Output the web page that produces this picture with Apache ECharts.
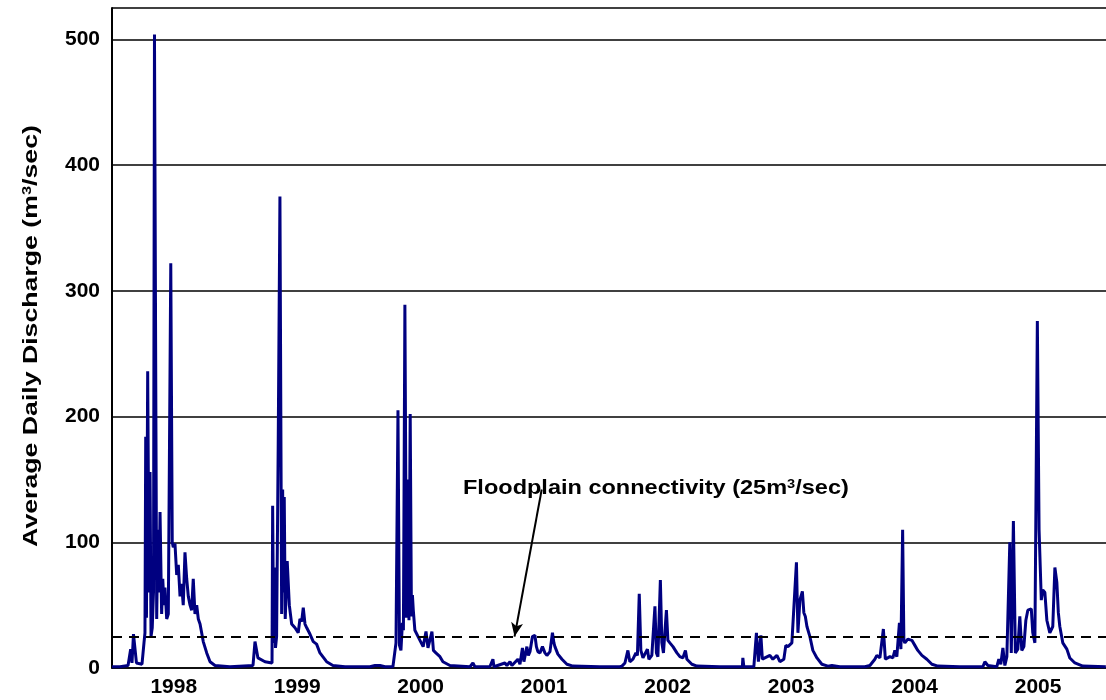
<!DOCTYPE html>
<html>
<head>
<meta charset="utf-8">
<script src="https://cdn.jsdelivr.net/npm/echarts@6/dist/echarts.min.js"></script>
<style>
    html, body { margin: 0; padding: 0; background: #fff; }
    #chart { width: 1106px; height: 700px; }
</style>
</head>
<body>
<div id="chart"></div>
<script>
// 每年的日均流量，[年内位置(0-1), 流量 m3/s]
const q1998 = [[0.000, 1], [0.065, 1], [0.130, 2], [0.151, 15], [0.162, 4], [0.174, 27], [0.190, 26], [0.198, 4], [0.243, 3], [0.259, 20], [0.267, 28], [0.273, 184], [0.279, 40], [0.289, 236], [0.300, 60], [0.308, 156], [0.316, 25], [0.326, 32], [0.336, 60], [0.344, 504], [0.356, 188], [0.362, 39], [0.372, 110], [0.381, 60], [0.389, 124], [0.402, 43], [0.411, 71], [0.421, 50], [0.429, 64], [0.443, 39], [0.456, 43], [0.476, 322], [0.488, 100], [0.496, 96], [0.510, 99], [0.524, 74], [0.537, 82], [0.551, 57], [0.564, 67], [0.577, 50], [0.591, 92], [0.605, 71], [0.618, 57], [0.632, 50], [0.645, 46], [0.658, 71], [0.672, 43], [0.686, 50], [0.699, 39], [0.713, 35], [0.739, 21], [0.767, 12], [0.794, 5], [0.834, 2], [0.955, 1]];
const q1999 = [[0.142, 2], [0.158, 21], [0.174, 21], [0.182, 8], [0.239, 5], [0.296, 4], [0.301, 129], [0.309, 20], [0.317, 80], [0.324, 16], [0.333, 25], [0.346, 177], [0.360, 375], [0.374, 43], [0.382, 142], [0.389, 60], [0.395, 136], [0.403, 39], [0.419, 85], [0.436, 50], [0.455, 35], [0.482, 32], [0.508, 28], [0.522, 39], [0.536, 37], [0.549, 48], [0.563, 35], [0.577, 32], [0.603, 27], [0.630, 21], [0.657, 19], [0.684, 12], [0.738, 5], [0.789, 2], [0.887, 1]];
const q2000 = [[0.089, 1], [0.130, 2], [0.170, 2], [0.211, 1], [0.275, 1], [0.300, 20], [0.316, 205], [0.328, 18], [0.340, 14], [0.352, 36], [0.360, 30], [0.372, 289], [0.385, 40], [0.397, 150], [0.405, 38], [0.415, 202], [0.425, 41], [0.433, 58], [0.440, 46], [0.453, 30], [0.467, 29], [0.494, 22], [0.520, 17], [0.543, 29], [0.559, 16], [0.591, 29], [0.603, 14], [0.623, 12], [0.656, 9], [0.680, 5], [0.737, 2], [0.899, 1], [0.923, 4], [0.939, 1]];
const q2001 = [[0.060, 1], [0.085, 7], [0.093, 1], [0.182, 4], [0.198, 2], [0.223, 5], [0.239, 2], [0.287, 7], [0.304, 3], [0.324, 16], [0.336, 5], [0.344, 6], [0.360, 17], [0.372, 10], [0.385, 13], [0.405, 25], [0.425, 26], [0.437, 17], [0.449, 13], [0.466, 12], [0.486, 17], [0.506, 12], [0.522, 10], [0.547, 13], [0.567, 28], [0.579, 20], [0.587, 17], [0.611, 11], [0.644, 7], [0.684, 3], [0.733, 1.5], [0.951, 1]];
const q2002 = [[0.113, 1], [0.130, 1.5], [0.154, 4], [0.178, 14], [0.194, 5], [0.219, 7], [0.243, 12], [0.255, 10], [0.270, 59], [0.283, 14], [0.300, 8], [0.316, 7], [0.336, 15], [0.348, 7], [0.372, 10], [0.385, 9], [0.397, 49], [0.409, 12], [0.421, 9], [0.441, 70], [0.453, 20], [0.466, 12], [0.490, 46], [0.502, 22], [0.518, 20], [0.543, 17], [0.575, 12], [0.599, 9], [0.623, 8], [0.644, 14], [0.656, 7], [0.696, 3], [0.737, 1.5], [0.923, 1]];
const q2003 = [[0.085, 1], [0.105, 1], [0.109, 8], [0.117, 1], [0.198, 1], [0.212, 2], [0.219, 28], [0.235, 5], [0.255, 26], [0.267, 7], [0.287, 8], [0.328, 10], [0.352, 7], [0.385, 10], [0.409, 5], [0.441, 7], [0.457, 18], [0.474, 17], [0.506, 20], [0.522, 21], [0.543, 84], [0.555, 28], [0.571, 54], [0.591, 61], [0.603, 44], [0.615, 41], [0.628, 33], [0.652, 25], [0.676, 14], [0.709, 8], [0.749, 3], [0.798, 1.5], [0.830, 2], [0.895, 1]];
const q2004 = [[0.097, 1], [0.138, 2], [0.178, 7], [0.194, 10], [0.219, 8], [0.247, 31], [0.263, 7], [0.300, 9], [0.324, 8], [0.340, 14], [0.356, 9], [0.377, 36], [0.389, 15], [0.403, 110], [0.413, 22], [0.421, 20], [0.445, 23], [0.478, 22], [0.502, 18], [0.526, 14], [0.559, 10], [0.599, 7], [0.640, 3], [0.688, 1.5], [0.866, 1]];
const q2005 = [[0.053, 1], [0.069, 5], [0.093, 2], [0.166, 1], [0.182, 7], [0.198, 3], [0.215, 16], [0.231, 2], [0.247, 9], [0.271, 100], [0.283, 12], [0.300, 117], [0.316, 12], [0.336, 15], [0.352, 41], [0.368, 14], [0.385, 17], [0.401, 38], [0.417, 46], [0.433, 46], [0.445, 47], [0.457, 28], [0.474, 20], [0.494, 276], [0.508, 110], [0.526, 54], [0.538, 62], [0.555, 60], [0.571, 38], [0.595, 28], [0.619, 33], [0.636, 80], [0.652, 68], [0.664, 44], [0.676, 33], [0.700, 20], [0.733, 15], [0.757, 8], [0.798, 4], [0.862, 1.5]];
const q2006 = [[0.049, 1]];

const yearly = [[1998, q1998], [1999, q1999], [2000, q2000], [2001, q2001], [2002, q2002], [2003, q2003], [2004, q2004], [2005, q2005], [2006, q2006]];

const threshold = 25;            // 漫滩连通流量
const yTicks = [0, 100, 200, 300, 400, 500];
const arrowFrom = [2001.48, 142];
const arrowTo = [2001.26, 25];

const FONT = '"Liberation Sans", Arial, sans-serif';

const discharge = yearly.flatMap(([y, q]) => q.map(([f, v]) => [y + f, v]));

const chart = echarts.init(document.getElementById('chart'));
chart.setOption({
    animation: false,
    grid: { left: 112, right: 0, top: 8, bottom: 32 },
    xAxis: {
        type: 'value',
        min: 1998,
        max: 2006.05,
        interval: 0.5,
        axisLine: { lineStyle: { color: '#000', width: 1.5 } },
        axisTick: { show: false },
        splitLine: { show: false },
        axisLabel: {
            showMinLabel: false,
            showMaxLabel: false,
            margin: 9,
            color: '#000',
            fontFamily: FONT,
            fontWeight: 'bold',
            fontSize: 21,
            formatter: (v) => (Math.abs((v % 1) - 0.5) < 1e-6 ? String(Math.floor(v)) : '')
        }
    },
    yAxis: {
        type: 'value',
        min: 0,
        max: 525,
        interval: 100,
        axisLine: { show: true, lineStyle: { color: '#000', width: 2 } },
        axisTick: { show: false },
        splitLine: { lineStyle: { color: '#000', width: 1.5 } },
        axisLabel: {
            showMaxLabel: false,
            margin: 12,
            color: '#000',
            fontFamily: FONT,
            fontWeight: 'bold',
            fontSize: 21,
            formatter: (v) => (yTicks.includes(v) ? String(v) : '')
        }
    },
    series: [
        {
            type: 'line',
            data: discharge,
            showSymbol: false,
            lineStyle: { color: '#000080', width: 3 },
            z: 3,
            markLine: {
                silent: true,
                symbol: ['none', 'none'],
                lineStyle: { color: '#000', type: [10, 7], width: 2 },
                label: { show: false },
                data: [{ yAxis: threshold }]
            }
        },
        {
            type: 'line',
            data: [],
            markLine: {
                silent: true,
                symbol: ['none', 'arrow'],
                symbolSize: [9, 14],
                lineStyle: { color: '#000', type: 'solid', width: 2 },
                label: { show: false },
                data: [[{ coord: arrowFrom }, { coord: arrowTo }]]
            }
        }
    ],
    graphic: [
        {
            type: 'text',
            x: 31,
            y: 336,
            rotation: Math.PI / 2,
            scaleX: 1.27,
            style: {
                text: 'Average Daily Discharge (m{sup|3}/sec)',
                fill: '#000',
                font: 'bold 21px ' + FONT,
                align: 'center',
                verticalAlign: 'middle',
                rich: { sup: { fontSize: 13, fontWeight: 'bold', fontFamily: FONT, verticalAlign: 'top', fill: '#000' } }
            }
        },
        {
            type: 'text',
            x: 463,
            y: 488,
            scaleX: 1.12,
            style: {
                text: 'Floodplain connectivity (25m{sup|3}/sec)',
                fill: '#000',
                font: 'bold 21px ' + FONT,
                align: 'left',
                verticalAlign: 'middle',
                rich: { sup: { fontSize: 13, fontWeight: 'bold', fontFamily: FONT, verticalAlign: 'top', fill: '#000' } }
            }
        }
    ]
});
</script>
</body>
</html>
